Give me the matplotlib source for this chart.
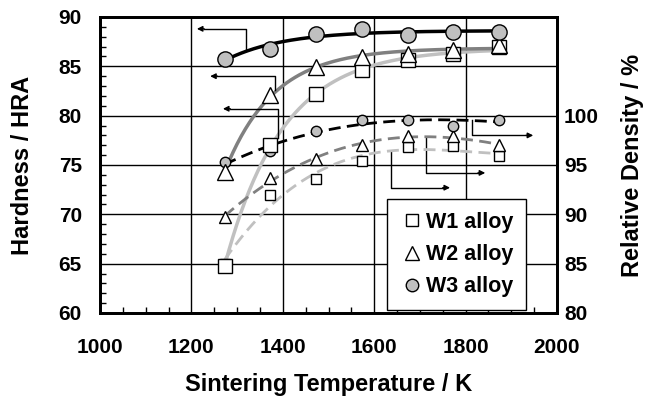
import numpy as np
import matplotlib
matplotlib.use("Agg")
import matplotlib.pyplot as plt
from matplotlib.ticker import MultipleLocator
from matplotlib.lines import Line2D

plt.rcParams['font.family'] = ['Liberation Sans', 'DejaVu Sans']
plt.rcParams['font.weight'] = 'bold'

temps = np.array([1273, 1373, 1473, 1573, 1673, 1773, 1873])
hard_w1 = np.array([64.8, 77.0, 82.2, 84.6, 85.6, 86.3, 87.0])
hard_w2 = np.array([74.3, 82.1, 84.9, 85.9, 86.3, 86.7, 87.2])
hard_w3 = np.array([85.7, 86.8, 88.3, 88.8, 88.2, 88.5, 88.5])
dens_w1 = np.array([85.0, 92.0, 93.6, 95.4, 96.8, 96.9, 95.9])
dens_w2 = np.array([89.7, 93.7, 95.6, 97.0, 97.9, 97.9, 97.0])
dens_w3 = np.array([95.3, 96.4, 98.4, 99.6, 99.6, 99.0, 99.6])

labels = ['W1 alloy', 'W2 alloy', 'W3 alloy']
line_colors = ['#c0c0c0', '#808080', '#000000']


def sat_fit(x, y):
    best = None
    for k in np.linspace(0.001, 0.05, 500):
        e = np.exp(-k * (x - x[0]))
        A = np.vstack([np.ones_like(e), -e]).T
        coef, res, *_ = np.linalg.lstsq(A, y, rcond=None)
        r = np.sum((A @ coef - y) ** 2)
        if best is None or r < best[0]:
            best = (r, k, coef)
    _, k, (a, b) = best
    return lambda t: a - b * np.exp(-k * (t - x[0]))


fig = plt.figure(figsize=(6.45, 3.99), dpi=100)
ax = fig.add_axes([100 / 645, 1 - 313 / 399, 457 / 645, 296 / 399])
ax2 = ax.twinx()

ax.set_xlim(1000, 2000)
ax.set_ylim(60, 90)
ax2.set_ylim(80, 110)

xs = np.linspace(temps[0], temps[-1], 200)

# density (right axis)
for d, c in zip([dens_w1, dens_w2, dens_w3], line_colors):
    p = np.polyfit(temps - 1573, d, 3)
    ax2.plot(xs, np.polyval(p, xs - 1573), color=c, lw=2, ls=(0, (4.3, 2.3)), zorder=2)

# hardness (left axis)
for h, c in zip([hard_w1, hard_w2, hard_w3], line_colors):
    f = sat_fit(temps, h)
    ax.plot(xs, f(xs), color=c, lw=2.5, zorder=2)

ax2.plot(temps, dens_w1, ls='none', marker='s', ms=7, mfc='white', mec='black', mew=1, zorder=3)
ax2.plot(temps, dens_w2, ls='none', marker='^', ms=8, mfc='white', mec='black', mew=1, zorder=3)
ax2.plot(temps, dens_w3, ls='none', marker='o', ms=7.5, mfc='#c0c0c0', mec='black', mew=1, zorder=3)

ax2.plot(temps, hard_w1 + 20, ls='none', marker='s', ms=10, mfc='white', mec='black', mew=1, zorder=4)
ax2.plot(temps, hard_w2 + 20, ls='none', marker='^', ms=12, mfc='white', mec='black', mew=1, zorder=4)
ax2.plot(temps, hard_w3 + 20, ls='none', marker='o', ms=11, mfc='#c0c0c0', mec='black', mew=1, zorder=4)

# arrows
arr_kw = dict(arrowstyle='-|>', color='black', lw=1, mutation_scale=8, shrinkA=0, shrinkB=0)
left_arrows = [(1319, 86.6, 88.8, 1212), (1384, 82.6, 84.0, 1241), (1389, 77.7, 80.7, 1269)]
for x0, y0, y1, x1 in left_arrows:
    ax.plot([x0, x0, x1 + 15], [y0, y1, y1], color='black', lw=1, zorder=5)
    ax.annotate('', xy=(x1, y1), xytext=(x1 + 16, y1), arrowprops=arr_kw, zorder=5)
right_arrows = [(1815, 79.6, 78.0, 1948), (1713, 77.8, 74.2, 1843), (1636, 76.3, 72.7, 1766)]
for x0, y0, y1, x1 in right_arrows:
    ax.plot([x0, x0, x1 - 15], [y0, y1, y1], color='black', lw=1, zorder=5)
    ax.annotate('', xy=(x1, y1), xytext=(x1 - 16, y1), arrowprops=arr_kw, zorder=5)

# grid
for g in [1200, 1400, 1600, 1800]:
    ax.axvline(g, color='black', lw=1, zorder=1)
for g in [65, 70, 75, 80, 85]:
    ax.axhline(g, color='black', lw=1, zorder=1)

ax.xaxis.set_major_locator(MultipleLocator(200))
ax.xaxis.set_minor_locator(MultipleLocator(50))
ax.yaxis.set_major_locator(MultipleLocator(5))
ax.yaxis.set_minor_locator(MultipleLocator(1))
ax.tick_params(axis='x', which='both', direction='in', top=False, pad=18, labelsize=15)
ax.tick_params(axis='y', which='both', direction='in', right=False, pad=13, labelsize=15)
ax.tick_params(which='major', length=0)
ax.tick_params(which='minor', length=4, width=1)
ax2.set_yticks([80, 85, 90, 95, 100])
ax2.tick_params(axis='y', length=0, pad=5, labelsize=15)
for lab in ax.get_xticklabels() + ax.get_yticklabels() + ax2.get_yticklabels():
    lab.set_fontweight('bold')

for sp in ax2.spines.values():
    sp.set_linewidth(2)
for sp in ax.spines.values():
    sp.set_linewidth(2)

ax.set_xlabel('Sintering Temperature / K', fontsize=17, fontweight='bold')
ax.set_ylabel('Hardness / HRA', fontsize=17, fontweight='bold')
ax2.set_ylabel('Relative Density / %', fontsize=17, fontweight='bold')
ax.xaxis.set_label_coords(0.5, (313 - 384) / 296)
ax.yaxis.set_label_coords((22 - 100) / 457, 0.5)
ax2.yaxis.set_label_coords((633 - 100) / 457, 0.5)
ax.xaxis.label.set_va('center')
ax.yaxis.label.set_va('center')
ax2.yaxis.label.set_va('center')

# legend
handles = [
    Line2D([], [], ls='none', marker='s', ms=9, mfc='white', mec='black', mew=1),
    Line2D([], [], ls='none', marker='^', ms=10, mfc='white', mec='black', mew=1),
    Line2D([], [], ls='none', marker='o', ms=9, mfc='#c0c0c0', mec='black', mew=1),
]
leg = ax2.legend(handles, labels, loc='upper left', bbox_to_anchor=((387 - 100) / 457, (313 - 199) / 296),
                 frameon=True, fancybox=False, edgecolor='black', framealpha=1,
                 prop={'weight': 'bold', 'size': 15.5}, handlelength=1.1, handletextpad=0.1,
                 borderpad=0.6, labelspacing=0.52, borderaxespad=0)
leg.get_frame().set_linewidth(1)
leg.set_zorder(10)

fig.savefig('out.png', dpi=100)
